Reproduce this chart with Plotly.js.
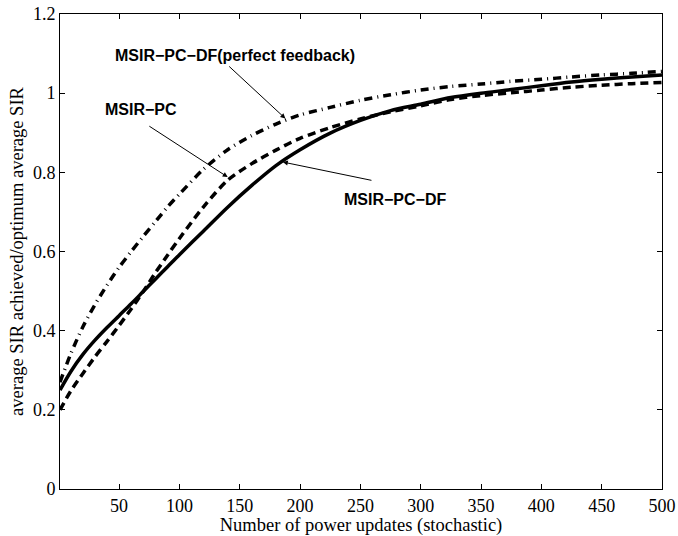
<!DOCTYPE html>
<html>
<head>
<meta charset="utf-8">
<script src="https://cdn.plot.ly/plotly-3.0.1.min.js"></script>
<style>html,body{margin:0;padding:0;background:#fff;}#chart{width:678px;height:536px;}</style>
</head>
<body>
<div id="chart"></div>
<script>
// Number of power updates (stochastic)
const updates = [1, 10, 20, 30, 40, 50, 60, 70, 80, 90, 100, 120, 140, 160, 180, 200, 225, 250, 275, 300, 325, 350, 375, 400, 425, 450, 475, 500];

// MSIR-PC-DF (solid)
const msirPcDf = [0.250, 0.297, 0.340, 0.376, 0.408, 0.438, 0.468, 0.499, 0.530, 0.561, 0.592, 0.652, 0.712, 0.767, 0.817, 0.857, 0.899, 0.931, 0.956, 0.972, 0.989, 1.000, 1.009, 1.019, 1.028, 1.035, 1.041, 1.046];

// MSIR-PC (dashed)
const msirPc = [0.200, 0.248, 0.292, 0.334, 0.373, 0.413, 0.455, 0.499, 0.546, 0.590, 0.633, 0.713, 0.780, 0.822, 0.856, 0.886, 0.913, 0.935, 0.953, 0.968, 0.984, 0.994, 1.001, 1.008, 1.015, 1.020, 1.024, 1.027];

// MSIR-PC-DF (perfect feedback) (dash-dot)
const msirPcDfPerfect = [0.270, 0.342, 0.410, 0.466, 0.515, 0.560, 0.600, 0.638, 0.675, 0.712, 0.745, 0.808, 0.857, 0.893, 0.922, 0.945, 0.964, 0.982, 0.996, 1.008, 1.017, 1.023, 1.030, 1.035, 1.041, 1.046, 1.050, 1.055];

// Labels
const labelPerfect = "MSIR\u2212PC\u2212DF(perfect feedback)";
const labelPc = "MSIR\u2212PC";
const labelPcDf = "MSIR\u2212PC\u2212DF";
const xTitle = "Number of power updates (stochastic)";
const yTitle = "average SIR achieved/optimum average SIR";

const serif = "Liberation Serif, Times New Roman, serif";
const sans = "Liberation Sans, Arial, sans-serif";

const traces = [
  {x: updates, y: msirPcDfPerfect, mode: "lines", name: labelPerfect,
   line: {color: "#000", width: 3.5, dash: "8px,5px,1px,5px", shape: "spline", smoothing: 0.8}},
  {x: updates, y: msirPc, mode: "lines", name: labelPc,
   line: {color: "#000", width: 3.5, dash: "8px,5px", shape: "spline", smoothing: 0.8}},
  {x: updates, y: msirPcDf, mode: "lines", name: labelPcDf,
   line: {color: "#000", width: 3.5, shape: "spline", smoothing: 0.8}}
];

function textAnn(t, x, y) {
  return {text: "<b>" + t + "</b>", x: x, y: y, xref: "x", yref: "y", showarrow: false,
          xanchor: "center", yanchor: "middle", font: {family: sans, size: 16, color: "#000"}};
}
function arrowAnn(tipX, tipY, tailX, tailY) {
  return {text: "", x: tipX, y: tipY, ax: tailX, ay: tailY, xref: "x", yref: "y", axref: "x", ayref: "y",
          showarrow: true, arrowhead: 2, arrowsize: 1, arrowwidth: 1, arrowcolor: "#000"};
}

const layout = {
  width: 678, height: 536,
  margin: {l: 60, r: 16, t: 14, b: 47},
  paper_bgcolor: "#fff", plot_bgcolor: "#fff",
  showlegend: false,
  font: {family: serif, size: 18, color: "#000"},
  xaxis: {
    range: [1, 500], tickmode: "linear", tick0: 0, dtick: 50,
    ticks: "inside", ticklen: 5, tickwidth: 1, tickcolor: "#000",
    showline: true, linecolor: "#000", linewidth: 1, mirror: "ticks",
    showgrid: false, zeroline: false,
    tickfont: {family: serif, size: 18, color: "#000"},
    title: {text: xTitle, font: {family: serif, size: 18.5, color: "#000"}, standoff: 2},
    automargin: false
  },
  yaxis: {
    range: [0, 1.2], tickmode: "linear", tick0: 0, dtick: 0.2,
    ticks: "inside", ticklen: 5, tickwidth: 1, tickcolor: "#000",
    showline: true, linecolor: "#000", linewidth: 1, mirror: "ticks",
    showgrid: false, zeroline: false,
    tickfont: {family: serif, size: 18, color: "#000"},
    title: {text: yTitle, font: {family: serif, size: 18.5, color: "#000"}, standoff: 4},
    automargin: false
  },
  annotations: [
    textAnn(labelPerfect, 146, 1.094),
    textAnn(labelPc, 68, 0.96),
    textAnn(labelPcDf, 278.6, 0.732),
    arrowAnn(187.8, 0.936, 140, 1.071),
    arrowAnn(140, 0.788, 73.8, 0.919),
    arrowAnn(185.7, 0.826, 260.4, 0.779)
  ]
};

Plotly.newPlot("chart", traces, layout, {staticPlot: true, displayModeBar: false});
</script>
</body>
</html>
